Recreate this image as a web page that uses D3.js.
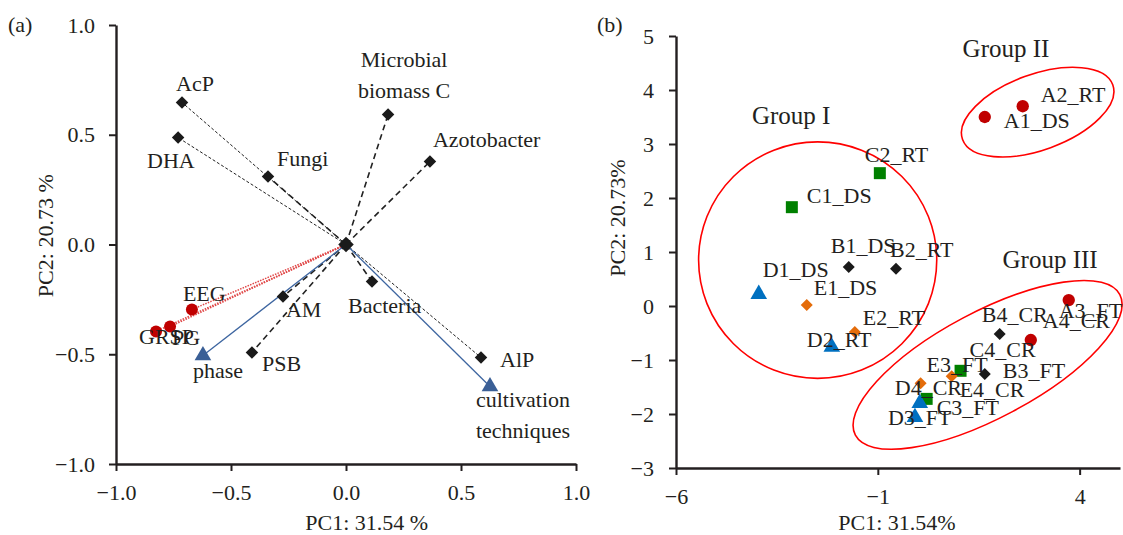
<!DOCTYPE html>
<html><head><meta charset="utf-8">
<script src="https://cdn.jsdelivr.net/npm/d3@7"></script>
<style>
body{margin:0;background:#fff}
svg text{font-family:"Liberation Serif","DejaVu Serif",serif;fill:#231f20}
</style>
</head><body>
<svg id="chart" width="1123" height="535"></svg>
<script>
// ---------- Panel (a): loadings ----------
const varNames = ["AcP","DHA","Fungi","Microbial biomass C","Azotobacter","Bacteria","AlP","AM","PSB"];
const varPC1   = [-0.713,-0.730,-0.339, 0.183, 0.365, 0.113, 0.587,-0.274,-0.409];
const varPC2   = [ 0.647, 0.487, 0.310, 0.592, 0.378,-0.169,-0.515,-0.237,-0.492];
const varDash  = ["fine","fine","bold","bold","bold","bold","fine","bold","bold"];

const suppNames = ["EEG","PG","GRSP"];
const suppPC1   = [-0.670,-0.765,-0.826];
const suppPC2   = [-0.296,-0.374,-0.396];

const factNames = ["phase","cultivation techniques"];
const factPC1   = [-0.622, 0.626];
const factPC2   = [-0.506,-0.647];

const ticksA = [-1.0,-0.5,0.0,0.5,1.0];

// ---------- Panel (b): scores ----------
const sampleNames = ["A1_DS","A2_RT","A3_FT","A4_CR","B1_DS","B2_RT","B3_FT","B4_CR",
  "C1_DS","C2_RT","C3_FT","C4_CR","D1_DS","D2_RT","D3_FT","D4_CR","E1_DS","E2_RT","E3_FT","E4_CR"];
const samplePC1 = [1.65,2.59,3.73,2.79,-1.72,-0.55,1.65,2.02,-3.13,-0.95,0.21,1.05,-3.95,-2.14,-0.08,0.04,-2.76,-1.57,0.06,0.83];
const samplePC2 = [3.50,3.70,0.11,-0.63,0.72,0.69,-1.26,-0.52,1.83,2.46,-1.72,-1.20,0.22,-0.76,-2.06,-1.80,0.02,-0.48,-1.43,-1.30];

const xTicksB = [-6,-1,4];
const yTicksB = [-3,-2,-1,0,1,2,3,4,5];

const groupNames = ["Group I","Group II","Group III"];
const groupCX = [-2.49, 2.96, 1.72];
const groupCY = [0.85, 3.59, -1.09];
const groupRX = [2.95, 1.98, 3.71];   // in PC1 units
const groupRY = [2.19, 0.70, 0.98];   // in PC2 units
const groupAngle = [0, -20, -28];
const groupLabelX = [-4.12, 1.10, 2.09];
const groupLabelY = [3.37, 4.61, 0.70];

// ---------- layout (label offsets in px) ----------
const varLabelOff = {
  "AcP":[-6,-11,"start"], "DHA":[-31,30,"start"], "Fungi":[9,-10,"start"],
  "Microbial biomass C":[16,-48,"middle"], "Azotobacter":[3,-15,"start"],
  "Bacteria":[-24,31,"start"], "AlP":[19,9,"start"], "AM":[3,20,"start"], "PSB":[10,19,"start"],
  "EEG":[-9,-8,"start"], "PG":[2,18,"start"], "GRSP":[-17,13,"start"],
  "phase":[-10,22,"start"], "cultivation techniques":[33,20,"middle"]
};
const sampleLabelOff = {
  A1_DS:[19,11],A2_RT:[18,-4],A3_FT:[-10,18],A4_CR:[12,-12],
  B1_DS:[-18,-14],B2_RT:[-6,-12],B3_FT:[18,4],B4_CR:[-18,-12],
  C1_DS:[15,-4],C2_RT:[-15,-11],C3_FT:[10,16],C4_CR:[9,-14],
  D1_DS:[4,-17],D2_RT:[-25,0],D3_FT:[-27,8],D4_CR:[-25,-8],
  E1_DS:[7,-10],E2_RT:[8,-7],E3_FT:[6,-11],E4_CR:[8,21]
};

const svg = d3.select("#chart");
const FS = 22;
const axisColor = "#231f20";

function styleAxis(g){
  g.select(".domain").attr("stroke",axisColor).attr("stroke-width",2.4);
  g.selectAll(".tick line").attr("stroke",axisColor).attr("stroke-width",2);
  g.selectAll(".tick text").attr("font-size",FS).attr("fill",axisColor)
    .style("font-family",'"Liberation Serif","DejaVu Serif",serif');
}

// ===== Panel (a) =====
const xA = d3.scaleLinear().domain([-1,1]).range([116,576]);
const yA = d3.scaleLinear().domain([-1,1]).range([464,25]);
const gA = svg.append("g");

gA.append("g").attr("transform",`translate(0,${yA(-1)})`)
  .call(d3.axisBottom(xA).tickValues(ticksA).tickFormat(d3.format(".1f")).tickSize(7).tickSizeOuter(0).tickPadding(13))
  .call(styleAxis);
gA.append("g").attr("transform",`translate(${xA(-1)},0)`)
  .call(d3.axisLeft(yA).tickValues(ticksA).tickFormat(d3.format(".1f")).tickSize(7).tickSizeOuter(0).tickPadding(14))
  .call(styleAxis);

// lines
const varData = varNames.map((n,i)=>({n,x:varPC1[i],y:varPC2[i],dash:varDash[i]}));
gA.selectAll("line.v").data(varData).join("line")
  .attr("x1",xA(0)).attr("y1",yA(0)).attr("x2",d=>xA(d.x)).attr("y2",d=>yA(d.y))
  .attr("stroke","#222")
  .attr("stroke-width",d=>d.dash==="fine"?1:1.6)
  .attr("stroke-dasharray",d=>d.dash==="fine"?"3,2":"6,4");

const suppData = suppNames.map((n,i)=>({n,x:suppPC1[i],y:suppPC2[i]}));
gA.selectAll("line.s").data(suppData).join("line")
  .attr("x1",xA(0)).attr("y1",yA(0)).attr("x2",d=>xA(d.x)).attr("y2",d=>yA(d.y))
  .attr("stroke","#e04848").attr("stroke-width",1.5).attr("stroke-dasharray","1.5,1.2");

const factData = factNames.map((n,i)=>({n,x:factPC1[i],y:factPC2[i]}));
gA.selectAll("line.f").data(factData).join("line")
  .attr("x1",xA(0)).attr("y1",yA(0)).attr("x2",d=>xA(d.x)).attr("y2",d=>yA(d.y))
  .attr("stroke","#3d65a0").attr("stroke-width",1.3);

// markers
const diamond = d3.symbol().type(d3.symbolSquare).size(78);
gA.selectAll("path.vm").data(varData).join("path")
  .attr("d",diamond).attr("fill","#1a1a1a")
  .attr("transform",d=>`translate(${xA(d.x)},${yA(d.y)}) rotate(45)`);
gA.append("path").attr("d",d3.symbol().type(d3.symbolSquare).size(120)).attr("fill","#1a1a1a")
  .attr("transform",`translate(${xA(0)},${yA(0)}) rotate(45)`);
gA.selectAll("circle.sm").data(suppData).join("circle")
  .attr("cx",d=>xA(d.x)).attr("cy",d=>yA(d.y)).attr("r",6).attr("fill","#c00000");
gA.selectAll("path.fm").data(factData).join("path")
  .attr("d",d3.symbol().type(d3.symbolTriangle).size(120)).attr("fill","#3a5f96")
  .attr("transform",d=>`translate(${xA(d.x)},${yA(d.y)})`);

// labels
function labelA(d){
  const o = varLabelOff[d.n];
  const words = d.n==="Microbial biomass C" ? ["Microbial","biomass C"] :
                d.n==="cultivation techniques" ? ["cultivation","techniques"] : [d.n];
  const t = gA.append("text").attr("font-size",FS).attr("text-anchor",o[2]);
  words.forEach((w,k)=>{
    t.append("tspan").attr("x",xA(d.x)+o[0]).attr("y",yA(d.y)+o[1]+k*31).text(w);
  });
}
varData.forEach(labelA); suppData.forEach(labelA); factData.forEach(labelA);

svg.append("text").attr("x",xA(0.09)).attr("y",530).attr("text-anchor","middle").attr("font-size",FS).text("PC1: 31.54 %");
svg.append("text").attr("transform",`translate(53,${yA(0.04)}) rotate(-90)`).attr("text-anchor","middle").attr("font-size",FS).text("PC2: 20.73 %");
svg.append("text").attr("x",8).attr("y",32).attr("font-size",FS).text("(a)");

// ===== Panel (b) =====
const xB = d3.scaleLinear().domain([-6,5]).range([676,1120]);
const yB = d3.scaleLinear().domain([-3,5]).range([468,36]);
const gB = svg.append("g");

gB.append("g").attr("transform",`translate(0,${yB(-3)})`)
  .call(d3.axisBottom(xB).tickValues(xTicksB).tickFormat(d3.format("d")).tickSize(7).tickSizeOuter(0).tickPadding(13))
  .call(styleAxis);
gB.append("g").attr("transform",`translate(${xB(-6)},0)`)
  .call(d3.axisLeft(yB).tickValues(yTicksB).tickFormat(d3.format("d")).tickSize(7).tickSizeOuter(0).tickPadding(15))
  .call(styleAxis);

// ellipses
groupNames.forEach((g,i)=>{
  const cx = xB(groupCX[i]), cy = yB(groupCY[i]);
  const rx = xB(groupCX[i]+groupRX[i]) - cx;
  const ry = cy - yB(groupCY[i]+groupRY[i]);
  gB.append("ellipse").attr("cx",cx).attr("cy",cy).attr("rx",rx).attr("ry",ry)
    .attr("transform",`rotate(${groupAngle[i]},${cx},${cy})`)
    .attr("fill","none").attr("stroke","#ff0000").attr("stroke-width",1.6);
  gB.append("text").attr("x",xB(groupLabelX[i])).attr("y",yB(groupLabelY[i]))
    .attr("font-size",25).text(g);
});

const sampleData = sampleNames.map((n,i)=>({n,x:samplePC1[i],y:samplePC2[i],grp:n[0]}));
const markerType = {A:d3.symbolCircle,B:d3.symbolSquare,C:d3.symbolSquare,D:d3.symbolTriangle,E:d3.symbolSquare};
const markerSize = {A:120,B:72,C:144,D:120,E:72};
const markerColor = {A:"#c00000",B:"#1a1a1a",C:"#008000",D:"#0070c0",E:"#e46c0a"};
const markerRot = {A:0,B:45,C:0,D:0,E:45};

gB.selectAll("path.sm").data(sampleData).join("path")
  .attr("d",d=>d3.symbol().type(markerType[d.grp]).size(markerSize[d.grp])())
  .attr("fill",d=>markerColor[d.grp])
  .attr("transform",d=>`translate(${xB(d.x)},${yB(d.y)}) rotate(${markerRot[d.grp]})`);

gB.selectAll("text.sl").data(sampleData).join("text")
  .attr("x",d=>xB(d.x)+sampleLabelOff[d.n][0])
  .attr("y",d=>yB(d.y)+sampleLabelOff[d.n][1])
  .attr("font-size",FS).text(d=>d.n);

svg.append("text").attr("x",897).attr("y",530).attr("text-anchor","middle").attr("font-size",FS).text("PC1: 31.54%");
svg.append("text").attr("transform",`translate(625,218) rotate(-90)`).attr("text-anchor","middle").attr("font-size",FS).text("PC2: 20.73%");
svg.append("text").attr("x",597).attr("y",32).attr("font-size",FS).text("(b)");
</script>
</body></html>
